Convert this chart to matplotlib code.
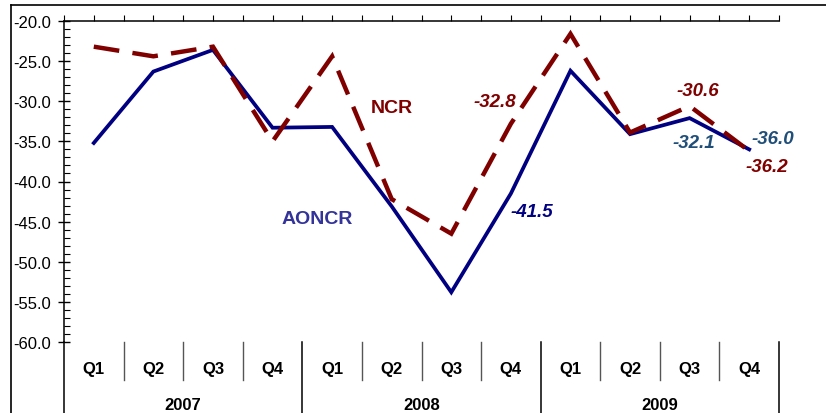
import matplotlib.pyplot as plt
from matplotlib.lines import Line2D
from matplotlib.ticker import MultipleLocator, FormatStrFormatter
import numpy as np

plt.rcParams['font.family'] = ['Liberation Sans', 'DejaVu Sans']

QUARTERS = ["Q1", "Q2", "Q3", "Q4"] * 3
YEARS = ["2007", "2008", "2009"]
AONCR = [-35.2, -26.3, -23.6, -33.3, -33.2, -43.1, -53.8, -41.5,
         -26.2, -34.1, -32.1, -36.0]
NCR = [-23.2, -24.4, -23.2, -35.0, -24.4, -42.2, -46.5, -32.8,
       -21.6, -33.9, -30.6, -36.2]

NAVY = "#000080"
MAROON = "#800000"
SERIES_LABEL_BLUE = "#333399"
VALUE_BLUE = "#1f4e79"


def main():
    fig = plt.figure(figsize=(8.26, 4.14), dpi=100)
    ax = fig.add_axes([64 / 826, 1 - 343 / 414, 715 / 826, 321 / 414])

    x = np.arange(len(QUARTERS))
    ax.plot(x, AONCR, color=NAVY, lw=2.7, solid_joinstyle="miter")
    ncr_line, = ax.plot(x, NCR, color=MAROON, lw=3.2, dash_joinstyle="miter")
    ncr_line.set_dashes([5.8, 3.0])

    ax.set_xlim(-0.5, len(QUARTERS) - 0.5)
    ax.set_ylim(-60, -20)

    # spines
    ax.spines["right"].set_visible(False)
    ax.spines["bottom"].set_visible(False)
    ax.spines["left"].set_linewidth(1.1)
    ax.spines["top"].set_linewidth(1.1)

    # y axis
    ax.yaxis.set_major_locator(MultipleLocator(5))
    ax.yaxis.set_minor_locator(MultipleLocator(1))
    ax.yaxis.set_major_formatter(FormatStrFormatter("%.1f"))
    ax.tick_params(axis="y", which="major", direction="inout", length=8,
                   width=1, labelsize=12, pad=5)
    ax.tick_params(axis="y", which="minor", direction="in", length=4,
                   width=0.8)

    # x ticks on top, no labels
    ax.xaxis.set_ticks_position("top")
    ax.set_xticks(np.arange(-0.5, len(QUARTERS), 0.5))
    ax.tick_params(axis="x", which="major", direction="out", length=4,
                   width=0.8, labeltop=False, labelbottom=False)

    # category table below the plot
    trans = ax.get_xaxis_transform()
    for i, q in enumerate(QUARTERS):
        ax.text(i, -0.081, q, transform=trans, ha="center", va="center",
                fontsize=12, fontweight="bold")
    for k in range(1, len(QUARTERS)):
        if k % 4 == 0:
            continue
        ax.plot([k - 0.5, k - 0.5], [0, -0.118], transform=trans,
                color="#555555", lw=1, clip_on=False)
    for k in range(0, len(QUARTERS) + 1, 4):
        ax.plot([k - 0.5, k - 0.5], [0, -0.23], transform=trans,
                color="black", lw=1.1, clip_on=False)
    for j, year in enumerate(YEARS):
        ax.text(j * 4 + 1.5, -0.195, year, transform=trans, ha="center",
                va="center", fontsize=12, fontweight="bold")

    # series labels
    ax.text(5.0, -30.8, "NCR", color=MAROON, fontsize=14,
            fontweight="bold", ha="center", va="center")
    ax.text(3.75, -44.6, "AONCR", color=SERIES_LABEL_BLUE, fontsize=14,
            fontweight="bold", ha="center", va="center")

    # value labels
    vstyle = dict(fontsize=13.5, fontweight="bold", style="italic",
                  ha="center", va="center")
    ax.text(6.73, -30.0, "%.1f" % NCR[7], color=MAROON, **vstyle)
    ax.text(7.35, -43.7, "%.1f" % AONCR[7], color=NAVY, **vstyle)
    ax.text(10.14, -28.7, "%.1f" % NCR[10], color=MAROON, **vstyle)
    ax.text(10.07, -35.1, "%.1f" % AONCR[10], color=VALUE_BLUE, **vstyle)
    ax.text(11.4, -34.7, "%.1f" % AONCR[11], color=VALUE_BLUE, **vstyle)
    ax.text(11.3, -38.1, "%.1f" % NCR[11], color=MAROON, **vstyle)

    # outer frame (top and left edges)
    fig.add_artist(Line2D([11 / 826, 1], [1 - 6 / 414, 1 - 6 / 414],
                          color="black", lw=1.2))
    fig.add_artist(Line2D([11 / 826, 11 / 826], [0, 1 - 6 / 414],
                          color="black", lw=1.2))

    fig.savefig("out.png", dpi=100)


if __name__ == "__main__":
    main()
